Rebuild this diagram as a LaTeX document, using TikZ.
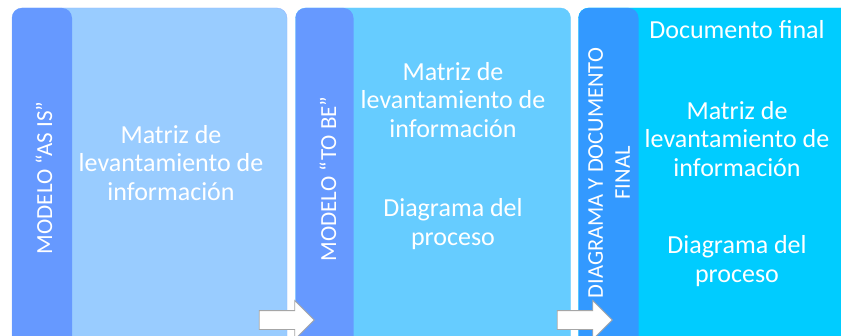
\documentclass[tikz,border=0pt]{standalone}
\usepackage{fontspec}
\setmainfont{Carlito}
\usetikzlibrary{shapes.arrows}
\definecolor{fondoA}{HTML}{99CCFF}
\definecolor{fondoB}{HTML}{66CCFF}
\definecolor{fondoC}{HTML}{00CCFF}
\definecolor{barraA}{HTML}{6699FF}
\definecolor{barraC}{HTML}{3399FF}
\begin{document}
\begin{tikzpicture}[x=1pt,y=1pt,
    panel/.style={rectangle,rounded corners=10pt,minimum width=275pt,minimum height=380pt,inner sep=0pt},
    barra/.style={rectangle,rounded corners=10pt,minimum width=60pt,minimum height=380pt,inner sep=0pt,anchor=north west},
    etiqueta/.style={text=white,font=\fontsize{23}{28}\selectfont,rotate=90,align=center},
    texto/.style={text=white,font=\fontsize{26}{28.5}\selectfont,align=center},
    flecha/.style={single arrow,draw=gray!70,fill=white,line width=0.8pt,inner xsep=0pt,inner ysep=9pt,minimum height=55pt,single arrow head extend=10pt}]
\useasboundingbox (0,0) rectangle (841,335);
\clip (0,0) rectangle (841,335);
\node[panel,fill=fondoA,draw=barraA!70] (p1) at (149.5,137) {};
\node[panel,fill=fondoB,draw=fondoB] (p2) at (433,137) {};
\node[panel,fill=fondoC,draw=fondoC] (p3) at (716,137) {};
\node[barra,fill=barraA] (b1) at (p1.north west) {};
\node[barra,fill=barraA,minimum width=58pt] (b2) at (p2.north west) {};
\node[barra,fill=barraC] (b3) at (p3.north west) {};
\node[etiqueta] (e1) at (44,157) {MODELO “AS IS”};
\node[etiqueta] (e2) at (328,156) {MODELO “TO BE”};
\node[etiqueta,font=\fontsize{22.5}{27}\selectfont] (e3) at (609,162) {DIAGRAMA Y DOCUMENTO\\FINAL};
\node[texto] (t1) at (171,172) {Matriz de\\levantamiento de\\información};
\node[texto] (t2) at (453,235) {Matriz de\\levantamiento de\\información};
\node[texto] (t3) at (453,111) {Diagrama del\\proceso};
\node[texto] (t4) at (737,305) {Documento final};
\node[texto] (t5) at (737,196) {Matriz de\\levantamiento de\\información};
\node[texto] (t6) at (737,74) {Diagrama del\\proceso};
\node[flecha] (f1) at (282,15) {};
\node[flecha] (f2) at (580,15) {};
\end{tikzpicture}
\end{document}
